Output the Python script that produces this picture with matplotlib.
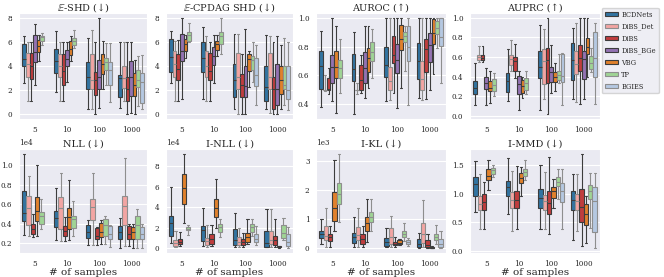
import matplotlib
matplotlib.use("Agg")
import matplotlib.pyplot as plt
import seaborn as sns
from matplotlib.patches import Patch
from matplotlib.ticker import ScalarFormatter

sns.set_style("darkgrid")
plt.rcParams["font.family"] = ["DejaVu Serif"]
plt.rcParams["mathtext.fontset"] = "dejavuserif"

samples = ["5", "10", "100", "1000"]
methods = ["BCDNets", "DiBS_Det", "DiBS", "DiBS_BGe", "VBG", "TP", "BGIES"]
base_colors = ["#1f77b4", "#ff9896", "#d62728", "#9467bd", "#ff7f0e", "#98df8a", "#aec7e8"]
light = ["DiBS_Det", "TP", "BGIES"]

# five-number summaries per sample size: (whisker low, q1, median, q3, whisker high)
eshd = {
    "BCDNets": [(2.6, 4.0, 4.6, 5.8, 6.5), (1.85, 3.4, 4.4, 5.4, 6.9), (0.47, 2.06, 3.06, 4.3, 6.3), (0.5, 1.4, 3.0, 3.25, 6.0)],
    "DiBS_Det": [(1.1, 3.06, 4.2, 5.1, 6.0), (1.1, 3.06, 4.0, 5.0, 6.0), (0.47, 2.06, 2.8, 5.0, 7.0), (1.1, 2.2, 3.0, 4.0, 6.0)],
    "DiBS": [(1.08, 2.9, 4.0, 5.1, 6.0), (1.1, 2.4, 3.6, 5.0, 6.0), (0.0, 1.6, 2.85, 3.5, 6.0), (0.0, 1.06, 2.06, 3.1, 6.0)],
    "DiBS_BGe": [(2.4, 4.3, 5.2, 6.55, 7.5), (2.7, 4.0, 4.6, 5.35, 6.0), (0.55, 2.06, 3.06, 4.5, 8.0), (0.1, 1.5, 3.06, 4.4, 6.0)],
    "VBG": [(4.4, 5.2, 5.7, 6.2, 6.6), (4.4, 4.9, 5.4, 6.1, 6.5), (2.06, 3.3, 4.17, 4.96, 6.07), (0.0, 1.5, 2.45, 3.4, 4.5)],
    "TP": [(5.75, 6.1, 6.4, 6.5, 6.7), (5.5, 5.75, 6.05, 6.3, 7.0), (2.45, 3.7, 4.3, 4.7, 5.9), (0.7, 2.27, 2.85, 3.65, 4.8)],
    "BGIES": [None, None, (1.0, 2.45, 3.7, 4.3, 5.9), (0.4, 0.95, 2.65, 3.4, 4.9)],
}
cpdag_shd = {
    "BCDNets": [(2.6, 3.5, 4.75, 6.23, 6.94), (1.27, 3.5, 4.64, 6.0, 7.2), (0.47, 1.4, 2.85, 4.2, 6.68), (0.47, 1.13, 2.27, 4.04, 6.54)],
    "DiBS_Det": [(1.06, 3.1, 4.17, 5.28, 6.1), (1.06, 3.06, 4.04, 5.28, 6.5), (0.0, 2.06, 3.06, 5.04, 6.68), (0.08, 2.1, 3.06, 5.1, 6.5)],
    "DiBS": [(1.06, 2.85, 3.77, 4.96, 6.2), (1.06, 2.8, 3.6, 5.1, 6.0), (0.0, 1.4, 2.45, 3.3, 5.0), (0.0, 0.47, 2.1, 3.1, 6.0)],
    "DiBS_BGe": [(1.3, 4.38, 5.22, 6.68, 8.0), (2.6, 4.1, 4.83, 5.54, 6.54), (0.0, 1.4, 2.3, 3.96, 7.07), (0.0, 0.74, 2.1, 4.2, 6.5)],
    "VBG": [(4.64, 5.22, 5.8, 6.23, 6.54), (4.83, 5.36, 5.8, 6.07, 6.54), (2.27, 3.6, 4.56, 5.0, 5.28), (0.47, 1.66, 2.85, 4.04, 5.75)],
    "TP": [(5.96, 6.07, 6.54, 6.86, 7.6), (4.96, 5.8, 6.5, 6.86, 8.0), (2.7, 3.7, 4.5, 4.83, 6.0), (0.74, 2.06, 2.45, 4.04, 6.33)],
    "BGIES": [None, None, (0.74, 2.3, 3.25, 4.7, 5.75), (0.34, 1.27, 2.0, 4.04, 5.96)],
}
auroc = {
    "BCDNets": [(0.38, 0.505, 0.665, 0.77, 0.91), (0.33, 0.56, 0.645, 0.75, 0.9), (0.42, 0.59, 0.67, 0.8, 1.0), (0.44, 0.573, 0.7, 0.827, 1.0)],
    "DiBS_Det": [(0.49, 0.5, 0.5, 0.5, 0.6), (0.47, 0.5, 0.5, 0.5, 0.55), (0.43, 0.5, 0.56, 0.655, 1.0), (0.43, 0.5, 0.573, 0.697, 1.0)],
    "DiBS": [(0.47, 0.5, 0.505, 0.58, 0.65), (0.476, 0.5, 0.566, 0.67, 0.74), (0.476, 0.685, 0.742, 0.876, 1.0), (0.438, 0.625, 0.786, 0.854, 1.0)],
    "DiBS_BGe": [(0.42, 0.545, 0.66, 0.74, 1.0), (0.44, 0.544, 0.652, 0.764, 0.94), (0.37, 0.618, 0.71, 0.82, 1.0), (0.5, 0.69, 0.81, 0.894, 1.0)],
    "VBG": [(0.34, 0.58, 0.66, 0.77, 0.94), (0.51, 0.625, 0.72, 0.79, 0.94), (0.515, 0.775, 0.85, 0.95, 1.0), (0.607, 0.82, 0.894, 0.993, 1.0)],
    "TP": [(0.476, 0.58, 0.65, 0.71, 0.85), (0.58, 0.697, 0.76, 0.83, 0.92), (0.63, 0.83, 0.876, 0.9, 0.94), (0.79, 0.888, 0.926, 0.98, 1.0)],
    "BGIES": [None, None, (0.393, 0.697, 0.8, 0.94, 1.0), (0.55, 0.805, 0.865, 1.0, 1.0)],
}
auprc = {
    "BCDNets": [(0.11, 0.23, 0.29, 0.36, 0.54), (0.15, 0.25, 0.36, 0.44, 0.68), (0.06, 0.39, 0.5, 0.66, 0.93), (0.17, 0.37, 0.57, 0.74, 0.9)],
    "DiBS_Det": [(0.55, 0.57, 0.6, 0.62, 0.71), (0.46, 0.52, 0.58, 0.625, 0.77), (0.17, 0.33, 0.56, 0.68, 0.89), (0.14, 0.43, 0.53, 0.66, 0.95)],
    "DiBS": [(0.55, 0.57, 0.59, 0.62, 0.71), (0.39, 0.46, 0.56, 0.6, 0.73), (0.02, 0.34, 0.57, 0.69, 1.0), (0.12, 0.46, 0.59, 0.72, 1.0)],
    "DiBS_BGe": [(0.11, 0.28, 0.34, 0.4, 0.49), (0.06, 0.23, 0.33, 0.41, 0.46), (0.24, 0.35, 0.45, 0.5, 0.72), (0.17, 0.38, 0.58, 0.66, 1.0)],
    "VBG": [(0.13, 0.26, 0.29, 0.36, 0.46), (0.18, 0.24, 0.31, 0.37, 0.4), (0.26, 0.35, 0.4, 0.45, 0.54), (0.4, 0.63, 0.7, 0.79, 1.0)],
    "TP": [(0.2, 0.26, 0.32, 0.38, 0.44), (0.23, 0.27, 0.34, 0.39, 0.46), (0.34, 0.37, 0.42, 0.46, 0.63), (0.45, 0.48, 0.54, 0.61, 0.69)],
    "BGIES": [None, None, (0.11, 0.35, 0.41, 0.63, 0.64), (0.12, 0.4, 0.59, 0.86, 0.95)],
}
# NLL and I-NLL in units of 1e4, I-KL in units of 1e3
nll = {
    "BCDNets": [(0.29, 0.43, 0.51, 0.74, 1.12), (0.23, 0.37, 0.46, 0.53, 0.77), (0.18, 0.26, 0.32, 0.39, 0.44), (0.15, 0.25, 0.32, 0.38, 0.46)],
    "DiBS_Det": [(0.28, 0.39, 0.56, 0.69, 0.89), (0.22, 0.35, 0.56, 0.68, 0.92), (0.18, 0.44, 0.57, 0.66, 0.92), (0.17, 0.39, 0.58, 0.69, 1.08)],
    "DiBS": [(0.27, 0.3, 0.35, 0.4, 0.5), (0.22, 0.28, 0.33, 0.38, 0.47), (0.18, 0.25, 0.28, 0.36, 0.37), (0.17, 0.25, 0.3, 0.38, 0.4)],
    "VBG": [(0.28, 0.43, 0.53, 0.68, 1.0), (0.24, 0.35, 0.47, 0.56, 0.85), (0.19, 0.27, 0.32, 0.41, 0.44), (0.15, 0.25, 0.32, 0.37, 0.4)],
    "TP": [(0.35, 0.4, 0.48, 0.52, 0.66), (0.28, 0.36, 0.45, 0.48, 0.64), (0.19, 0.28, 0.39, 0.45, 0.48), (0.15, 0.25, 0.39, 0.48, 0.55)],
    "BGIES": [None, None, (0.16, 0.25, 0.3, 0.38, 0.39), (0.15, 0.25, 0.3, 0.37, 0.4)],
}
i_nll = {
    "BCDNets": [(0.5, 1.2, 2.5, 3.18, 5.97), (0.2, 0.7, 1.8, 2.2, 3.9), (0.1, 0.3, 0.82, 1.88, 3.48), (0.1, 0.15, 0.5, 1.67, 3.85)],
    "DiBS_Det": [(0.1, 0.2, 0.5, 0.76, 1.67), (0.1, 0.3, 0.7, 1.0, 2.27), (0.1, 0.3, 0.6, 1.06, 1.97), (0.1, 0.4, 0.82, 1.67, 3.8)],
    "DiBS": [(0.2, 0.4, 0.6, 0.9, 1.6), (0.2, 0.45, 0.9, 1.36, 2.27), (0.1, 0.3, 0.6, 0.9, 1.5), (0.1, 0.3, 0.76, 1.2, 2.8)],
    "VBG": [(2.5, 4.3, 5.9, 7.2, 9.2), (2.0, 3.03, 3.94, 4.76, 6.76), (0.4, 0.6, 1.12, 1.5, 2.8), (0.02, 0.08, 0.12, 0.18, 0.25)],
    "TP": [(1.3, 1.73, 1.9, 2.03, 2.27), (1.06, 1.6, 2.03, 2.33, 2.88), (1.2, 1.6, 2.03, 2.4, 2.88), (0.76, 1.0, 1.5, 2.27, 2.94)],
    "BGIES": [None, None, (0.3, 0.6, 0.9, 1.42, 2.2), (0.0, 0.2, 0.6, 1.36, 2.1)],
}
i_kl = {
    "BCDNets": [(0.14, 0.35, 0.5, 0.61, 1.0), (0.05, 0.18, 0.4, 0.54, 1.07), (0.03, 0.08, 0.21, 0.35, 0.68), (0.0, 0.03, 0.14, 0.32, 0.54)],
    "DiBS_Det": [(0.03, 0.27, 0.43, 0.78, 1.39), (0.03, 0.27, 0.46, 0.72, 1.39), (0.03, 0.16, 0.38, 0.68, 1.1), (0.03, 0.18, 0.48, 0.86, 1.66)],
    "DiBS": [(0.05, 0.25, 0.4, 0.48, 0.75), (0.03, 0.16, 0.32, 0.48, 0.75), (0.05, 0.1, 0.16, 0.21, 0.38), (0.0, 0.03, 0.11, 0.27, 0.5)],
    "VBG": [(0.59, 0.93, 1.39, 1.93, 3.05), (0.21, 0.59, 0.86, 1.07, 1.68), (0.1, 0.14, 0.18, 0.29, 0.32), (0.0, 0.01, 0.02, 0.04, 0.07)],
    "TP": [(0.89, 1.53, 1.85, 2.25, 3.25), (0.59, 0.89, 1.07, 1.23, 1.68), (0.25, 0.4, 0.5, 0.61, 0.86), (0.16, 0.27, 0.4, 0.5, 0.8)],
    "BGIES": [None, None, (0.08, 0.14, 0.21, 0.29, 0.35), (0.0, 0.05, 0.16, 0.32, 0.61)],
}
i_mmd = {
    "BCDNets": [(0.68, 0.95, 1.16, 1.28, 1.56), (0.64, 0.95, 1.11, 1.22, 1.61), (0.38, 0.75, 0.93, 1.07, 1.5), (0.2, 0.71, 0.89, 1.05, 1.34)],
    "DiBS_Det": [(0.38, 0.72, 0.82, 0.95, 1.33), (0.35, 0.74, 0.89, 1.02, 1.39), (0.38, 0.71, 0.87, 0.98, 1.38), (0.35, 0.71, 0.87, 1.0, 1.34)],
    "DiBS": [(0.38, 0.72, 0.86, 1.0, 1.2), (0.38, 0.74, 0.89, 1.05, 1.47), (0.29, 0.64, 0.83, 1.04, 1.63), (0.09, 0.51, 0.76, 1.07, 1.69)],
    "VBG": [(1.06, 1.23, 1.31, 1.42, 1.58), (0.95, 1.18, 1.27, 1.36, 1.46), (0.75, 0.93, 1.05, 1.12, 1.25), (0.15, 0.46, 0.65, 0.82, 0.95)],
    "TP": [(1.28, 1.34, 1.4, 1.44, 1.5), (1.23, 1.31, 1.38, 1.42, 1.58), (0.9, 1.13, 1.2, 1.29, 1.43), (0.41, 0.9, 1.04, 1.14, 1.36)],
    "BGIES": [None, None, (0.38, 0.85, 1.04, 1.18, 1.43), (0.05, 0.34, 0.87, 1.11, 1.35)],
}

panels = [
    (r"$\mathbb{E}$-SHD (↓)", eshd, 1, [0, 2, 4, 6, 8]),
    (r"$\mathbb{E}$-CPDAG SHD (↓)", cpdag_shd, 1, [0, 2, 4, 6, 8]),
    ("AUROC (↑)", auroc, 1, [0.4, 0.6, 0.8, 1.0]),
    ("AUPRC (↑)", auprc, 1, [0.0, 0.2, 0.4, 0.6, 0.8, 1.0]),
    ("NLL (↓)", nll, 1e4, [2000, 4000, 6000, 8000, 10000]),
    ("I-NLL (↓)", i_nll, 1e4, [0, 20000, 40000, 60000, 80000]),
    ("I-KL (↓)", i_kl, 1e3, [0, 1000, 2000, 3000]),
    ("I-MMD (↓)", i_mmd, 1, [0.0, 0.5, 1.0, 1.5]),
]

colors = {m: sns.desaturate(c, 0.75) for m, c in zip(methods, base_colors)}
line_colors = {m: ("#8e8e8e" if m in light else "#3d3d3d") for m in methods}

W, H = 664, 277
fig = plt.figure(figsize=(W / 100, H / 100), dpi=100)
lefts = [19, 166, 316, 470]
rights = [147, 293, 446, 600]
rows = [(13, 119), (149, 253)]

for k, (title, data, scale, yticks) in enumerate(panels):
    r, c = divmod(k, 4)
    top, bot = rows[r]
    ax = fig.add_axes([lefts[c] / W, 1 - bot / H, (rights[c] - lefts[c]) / W, (bot - top) / H])
    hue = [m for m in methods if m in data]
    n = len(hue)
    w = 0.8 / n
    for j, m in enumerate(hue):
        for i, s in enumerate(data[m]):
            if s is None:
                continue
            lo, q1, med, q3, hi = [v * scale for v in s]
            pos = i + (j - (n - 1) / 2) * w
            lc = line_colors[m]
            ax.bxp([dict(whislo=lo, q1=q1, med=med, q3=q3, whishi=hi)], positions=[pos], widths=w,
                   patch_artist=True, showfliers=False, manage_ticks=False,
                   boxprops=dict(facecolor=colors[m], edgecolor=lc, linewidth=0.8),
                   whiskerprops=dict(color=lc, linewidth=0.8),
                   capprops=dict(color=lc, linewidth=0.8),
                   medianprops=dict(color=lc, linewidth=0.8))
    ax.set_xlim(-0.5, len(samples) - 0.5)
    ax.set_xticks(range(len(samples)))
    ax.set_xticklabels(samples)
    ax.set_yticks(yticks)
    ax.xaxis.grid(False)
    ax.tick_params(labelsize=5.2, pad=1.2)
    ax.set_title(title, fontsize=7, pad=1.5)
    if scale != 1:
        fmt = ScalarFormatter(useMathText=False)
        fmt.set_powerlimits((0, 0))
        ax.yaxis.set_major_formatter(fmt)
        ax.yaxis.get_offset_text().set_fontsize(5.2)
    if r == 1:
        ax.set_xlabel("# of samples", fontsize=7.5, labelpad=0)

handles = [Patch(facecolor=colors[m], edgecolor=line_colors[m], linewidth=0.8, label=m) for m in methods]
fig.legend(handles=handles, loc="upper left", bbox_to_anchor=(602 / W, 1 - 8 / H), fontsize=4.8,
           handlelength=2.0, handleheight=0.6, labelspacing=0.6, borderpad=0.4, handletextpad=0.5,
           borderaxespad=0)

fig.savefig("out.png", dpi=100)
